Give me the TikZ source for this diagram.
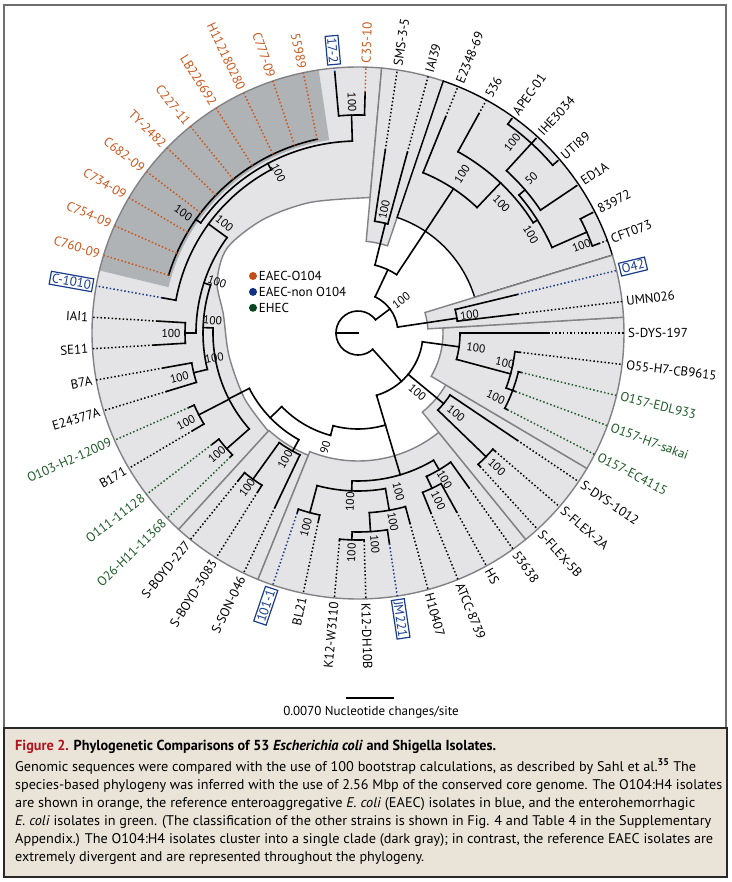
\documentclass[tikz,border=0pt]{standalone}
\usepackage{fontspec}
\setmainfont{PT Sans}
\usetikzlibrary{positioning}
\definecolor{ora}{RGB}{201,87,30}
\definecolor{blu}{RGB}{25,60,140}
\definecolor{grn}{RGB}{30,90,40}
\definecolor{dora}{RGB}{196,78,24}
\definecolor{dblu}{RGB}{20,50,130}
\definecolor{dgrn}{RGB}{12,70,30}
\definecolor{lgray}{RGB}{228,228,230}
\definecolor{dgray}{RGB}{176,179,182}
\definecolor{rgray}{RGB}{130,130,133}
\definecolor{framegray}{RGB}{110,110,110}
\definecolor{beige}{RGB}{234,227,215}
\definecolor{capline}{RGB}{40,40,40}
\definecolor{figred}{RGB}{178,20,30}

\tikzset{
  branch/.style={line width=1.6pt, line cap=rect},
  tipline/.style={line width=1.5pt, dash pattern=on 1.5pt off 2.2pt},
  leaflab/.style={font=\fontsize{13}{15}\selectfont, inner sep=1pt},
  bslab/.style={font=\fontsize{11.5}{13}\selectfont, inner sep=0.5pt},
  lab black/.style={}, lab ora/.style={}, lab grn/.style={},
  lab blu/.style={draw=blu, fill=white, line width=1.2pt, inner sep=1.8pt},
  region/.style={fill=lgray, draw=rgray, line width=1.4pt},
  legdot/.style={circle, inner sep=0pt, minimum size=8pt},
  legtxt/.style={font=\fontsize{13}{15}\selectfont, inner sep=1pt},
  captxt/.style={anchor=base west, inner sep=0pt, font=\fontsize{14}{16}\selectfont}
}

% radial branch ending in a named node, and the arc joining the children
\newcommand{\tstem}[4]{\draw[branch] (#2:#3) -- (#2:#4) coordinate (#1);}
\newcommand{\tarc}[3]{\draw[branch] (#2:#1) arc[start angle=#2, end angle=#3, radius=#1pt];}
% shaded clade: from angle, to angle, inner radius, style
\newcommand{\cladebg}[4]{\filldraw[#4] (#1:#3) arc[start angle=#1, end angle=#2, radius=#3pt] -- (#2:266) arc[start angle=#2, end angle=#1, radius=266pt] -- cycle;}
% leaf: index, radius of parent, radius of tip, label, colour
\newcommand{\leaf}[5]{%
  \pgfmathsetmacro\lfang{#1/53*360}%
  \pgfmathtruncatemacro\lfside{and(\lfang>90,\lfang<270)}%
  \draw[branch] (\lfang:#2) -- (\lfang:#3) coordinate (t#1);
  \coordinate (e#1) at (\lfang:266);
  \draw[tipline, draw=#5] (t#1) -- (e#1);
  \ifnum\lfside=1
    \pgfmathsetmacro\lfrot{\lfang-180}%
    \node[leaflab, text=#5, lab #5, anchor=east, rotate=\lfrot] (l#1) at (\lfang:269) {#4};
  \else
    \node[leaflab, text=#5, lab #5, anchor=west, rotate=\lfang] (l#1) at (\lfang:269) {#4};
  \fi}
% bootstrap value: [text] name, angle, radius, rotation
\newcommand{\bsv}[5][100]{\node[bslab, rotate=#5] (#2) at (#3:#4) {#1};}

\begin{document}
\begin{tikzpicture}[x=1pt,y=1pt]
\useasboundingbox (-358,333) rectangle (373,-549);

% frame and caption box
\draw[framegray, line width=1.5pt] (-354,328) rectangle (368,-395);
\filldraw[fill=beige, draw=capline, line width=2.5pt] (-354,-395) rectangle (369,-544);

% clade shading
\fill[lgray] plot[smooth] coordinates {(84.9:136) (110:139) (130:148) (147:156) (160:150) (172:136) (190:131) (210:131) (227.6:133)} -- (227.6:266) arc[start angle=227.6, end angle=84.9, radius=266pt] -- cycle;
\fill[dgray] (98.5:195) arc[start angle=98.5, end angle=166.4, radius=195pt] -- (166.4:266) arc[start angle=166.4, end angle=98.5, radius=266pt] -- cycle;
\draw[rgray, line width=1.4pt] plot[smooth] coordinates {(84.9:136) (110:139) (130:148) (147:156) (160:150) (172:136) (190:131) (210:131) (227.6:133)} -- (227.6:266) arc[start angle=227.6, end angle=84.9, radius=266pt] -- cycle;
\cladebg{227.6}{247.9}{132}{region}
\cladebg{247.9}{309.1}{128}{region}
\cladebg{309.1}{329.4}{102}{region}
\cladebg{329.4}{363.4}{85}{region}
\cladebg{71.3}{84.9}{92}{region}
\cladebg{17}{71.3}{122}{region, draw=black}
\cladebg{3.4}{17}{70}{region}

% root
\tstem{root}{180}{0}{22}
\tarc{22}{37}{312}
% upper half
\tstem{nup}{37}{22}{40}
\tarc{40}{8.5}{64.7}
\tstem{nwa}{8.5}{40}{100}
\tarc{100}{6.79}{13.58}
\tstem{nbd}{64.7}{40}{70}
\tarc{70}{56.5}{76}
\tstem{nwc}{76}{70}{113}
\tarc{113}{74.72}{81.51}
\tstem{nbb}{56.5}{70}{173}
\tarc{173}{46.5}{67.92}
\tstem{nfs}{46.5}{173}{207}
\tarc{207}{32.2}{61.13}
\tstem{nlt}{32.2}{207}{212}
\tarc{212}{23.8}{40.6}
\tstem{ncf}{23.8}{212}{250}
\tarc{250}{20.38}{27.17}
\tstem{nfy}{40.6}{212}{220}
\tarc{220}{33.96}{47.55}
\tstem{nap}{47.55}{220}{257}
\tarc{257}{40.75}{54.34}
% lower half
\tstem{nlo}{312}{22}{65}
\tarc{65}{286.6}{352.2}
\tstem{nec}{352.2}{65}{102}
\tarc{102}{345}{360}
\tstem{nof}{345}{102}{158}
\tarc{158}{339.62}{353.21}
\tstem{nos}{339.62}{158}{165}
\tarc{165}{332.83}{346.42}
\tstem{nsd}{320.5}{65}{111}
\tarc{111}{316}{326.04}
\tstem{nfx}{316}{111}{178}
\tarc{178}{312.45}{319.25}
\tstem{nsw}{286.6}{65}{148}
\tarc{96}{255}{286.6}
\tstem{nnn}{255}{96}{106}
\tarc{106}{224}{255}
\tstem{nlf}{224}{106}{122}
\tarc{122}{207}{241}
\tstem{nwe}{241}{122}{135}
\tarc{135}{234.3}{244.53}
\tstem{nby}{234.3}{135}{180}
\tarc{180}{230.94}{237.74}
\tstem{nx}{207}{122}{145}
\tarc{145}{178}{221.4}
\tstem{noo}{221.4}{145}{175}
\tarc{175}{217.36}{224.15}
\tstem{nob}{207.2}{145}{179}
\tarc{179}{203.77}{210.57}
\tstem{ne}{178}{145}{155}
\tarc{155}{162}{193.6}
\tstem{nbe}{193.6}{155}{169}
\tarc{169}{190.19}{196.98}
\tstem{nd}{162}{155}{162}
\tarc{162}{143.9}{180}
\tstem{nie}{180}{162}{173}
\tarc{173}{176.6}{183.4}
\tstem{nc}{143.9}{162}{185}
\tarc{185}{118}{169.81}
\tstem{ntop}{118}{185}{192}
\tarc{192}{91.7}{145}
\tstem{nst}{91.7}{192}{218}
\tarc{218}{88.3}{95.09}
\tstem{nox}{145}{192}{198}
\tarc{198}{101.89}{163.02}
\tarc{148}{267.7}{300.7}
\tstem{nk}{267.7}{148}{158}
\tarc{158}{255}{280}
\tstem{nbl}{255}{158}{186}
\tarc{186}{251.32}{258.11}
\tstem{nkb}{280}{158}{180}
\tarc{180}{273.6}{285.28}
\tstem{nkc}{273.6}{180}{199}
\tarc{199}{268.3}{278.49}
\tstem{nkt}{268.3}{199}{207}
\tarc{207}{264.91}{271.7}
\tstem{nr}{300.7}{148}{159}
\tarc{159}{295.5}{305.66}
\tstem{nah}{295.5}{159}{172}
\tarc{172}{292.08}{298.87}

% leaves
\leaf{0}{102}{190}{S-DYS-197}{black}
\leaf{1}{100}{161}{UMN026}{black}
\leaf{2}{100}{164}{O42}{blu}
\leaf{3}{250}{257}{CFT073}{black}
\leaf{4}{250}{263}{83972}{black}
\leaf{5}{220}{263}{ED1A}{black}
\leaf{6}{257}{263}{UTI89}{black}
\leaf{7}{257}{263}{IHE3034}{black}
\leaf{8}{257}{263}{APEC-01}{black}
\leaf{9}{207}{250}{536}{black}
\leaf{10}{173}{233}{E2348-69}{black}
\leaf{11}{113}{187}{IAI39}{black}
\leaf{12}{113}{185}{SMS-3-5}{black}
\leaf{13}{218}{241}{C35-10}{ora}
\leaf{14}{218}{262}{17-2}{blu}
\leaf{15}{198}{198}{55989}{ora}
\leaf{16}{198}{198}{C777-09}{ora}
\leaf{17}{198}{198}{H112180280}{ora}
\leaf{18}{198}{198}{LB226692}{ora}
\leaf{19}{198}{198}{C227-11}{ora}
\leaf{20}{198}{198}{TY-2482}{ora}
\leaf{21}{198}{198}{C682-09}{ora}
\leaf{22}{198}{198}{C734-09}{ora}
\leaf{23}{198}{198}{C754-09}{ora}
\leaf{24}{198}{198}{C760-09}{ora}
\leaf{25}{185}{199}{C-1010}{blu}
\leaf{26}{173}{201}{IAI1}{black}
\leaf{27}{173}{205}{SE11}{black}
\leaf{28}{169}{198}{B7A}{black}
\leaf{29}{169}{200}{E24377A}{black}
\leaf{30}{179}{185}{O103-H2-12009}{grn}
\leaf{31}{179}{192}{B171}{black}
\leaf{32}{175}{184}{O111-11128}{grn}
\leaf{33}{175}{178}{O26-H11-11368}{grn}
\leaf{34}{180}{190}{S-BOYD-227}{black}
\leaf{35}{180}{188}{S-BOYD-3083}{black}
\leaf{36}{135}{193}{S-SON-046}{black}
\leaf{37}{186}{190}{101-1}{blu}
\leaf{38}{186}{193}{BL21}{black}
\leaf{39}{207}{208}{K12-W3110}{black}
\leaf{40}{207}{208}{K12-DH10B}{black}
\leaf{41}{199}{213}{JM221}{blu}
\leaf{42}{180}{197}{H10407}{black}
\leaf{43}{172}{194}{ATCC-8739}{black}
\leaf{44}{172}{204}{HS}{black}
\leaf{45}{159}{190}{53638}{black}
\leaf{46}{178}{181}{S-FLEX-5B}{black}
\leaf{47}{178}{181}{S-FLEX-2A}{black}
\leaf{48}{111}{192}{S-DYS-1012}{black}
\leaf{49}{165}{168}{O157-EC4115}{grn}
\leaf{50}{165}{168}{O157-H7-sakai}{grn}
\leaf{51}{165}{168}{O157-EDL933}{grn}
\leaf{52}{158}{163}{O55-H7-CB9615}{black}

% bootstrap values
\bsv{bup}{37}{54}{37}
\bsv{blo}{-45}{84}{-40}
\bsv{bwa}{9.3}{113}{8}
\bsv{bwc}{78}{126}{78}
\bsv{bba}{56.8}{190}{57}
\bsv{bbb}{42}{193}{-46}
\bsv{bbc}{29.7}{199}{-60}
\bsv{bbd}{51}{245}{51}
\bsv[50]{bbe}{41.7}{232}{42}
\bsv{bbf}{21.4}{240}{21}
\bsv{bst}{91.5}{231}{-88.5}
\bsv{box}{145.5}{212}{-34.5}
\bsv{bc}{140.5}{173}{-39}
\bsv{btop}{116.4}{179}{-63.6}
\bsv{bd}{175}{146}{-5}
\bsv{be}{160}{150}{-20}
\bsv{bf}{190}{146}{10}
\bsv{bie}{180}{187}{0}
\bsv{bbx}{194}{184}{14}
\bsv{bob}{207.5}{194}{27.5}
\bsv{boo}{220.6}{186}{40.6}
\bsv[90]{bnn}{254}{119}{74}
\bsv{bwe}{240}{146}{60}
\bsv{bby}{234.3}{190}{54.3}
\bsv{bsw}{284.3}{164}{-75.7}
\bsv{bk}{267.3}{169}{87.3}
\bsv{bbl}{255}{201}{75}
\bsv{bkb}{280.5}{192}{-79.5}
\bsv{bkc}{274.6}{212}{-85.4}
\bsv{bkt}{268.3}{220}{88.3}
\bsv{br}{300.6}{170}{-59.4}
\bsv{bah}{295.6}{186}{-64.4}
\bsv{bec}{-7.3}{119}{-7.3}
\bsv{bof}{-11.5}{150}{-11.5}
\bsv{bos}{-25}{152}{-25}
\bsv{bsd}{-39.5}{127}{-39.5}
\bsv{bfx}{-44}{193}{-44}

% legend
\node[legdot, fill=dora] (dOne) at (-105,57) {};
\node[legtxt, right=0.5pt of dOne] (tOne) {EAEC-O104};
\node[legdot, fill=dblu, below=7.5pt of dOne] (dTwo) {};
\node[legtxt, right=0.5pt of dTwo] (tTwo) {EAEC-non O104};
\node[legdot, fill=dgrn, below=7.5pt of dTwo] (dThree) {};
\node[legtxt, right=0.5pt of dThree] (tThree) {EHEC};

% scale bar
\coordinate (sbl) at (-12,-365);
\coordinate (sbr) at (36,-365);
\draw[line width=2.4pt] (sbl) -- (sbr);
\node[font=\fontsize{13}{15}\selectfont, inner sep=0pt] (sbt) at (13,-379) {0.0070 Nucleotide changes/site};

% caption
\node[captxt, font=\fontsize{14.5}{16}\selectfont] (cap0) at (-343,-417) {\resizebox{481pt}{\height}{\bfseries\textcolor{figred}{Figure 2.} Phylogenetic Comparisons of 53 \textit{Escherichia coli} and Shigella Isolates.}};
\node[captxt] (cap1) at (-343,-438) {\resizebox{681pt}{\height}{Genomic sequences were compared with the use of 100 bootstrap calculations, as described by Sahl et al.\textsuperscript{\bfseries 35} The}};
\node[captxt] (cap2) at (-343,-456) {\resizebox{707pt}{\height}{species-based phylogeny was inferred with the use of 2.56 Mbp of the conserved core genome. The O104:H4 isolates}};
\node[captxt] (cap3) at (-343,-474) {\resizebox{680pt}{\height}{are shown in orange, the reference enteroaggregative \textit{E. coli} (EAEC) isolates in blue, and the enterohemorrhagic}};
\node[captxt] (cap4) at (-343,-492) {\resizebox{696pt}{\height}{\textit{E. coli} isolates in green. (The classification of the other strains is shown in Fig. 4 and Table 4 in the Supplementary}};
\node[captxt] (cap5) at (-343,-510) {\resizebox{698pt}{\height}{Appendix.) The O104:H4 isolates cluster into a single clade (dark gray); in contrast, the reference EAEC isolates are}};
\node[captxt] (cap6) at (-343,-528) {\resizebox{409pt}{\height}{extremely divergent and are represented throughout the phylogeny.}};
\end{tikzpicture}
\end{document}
